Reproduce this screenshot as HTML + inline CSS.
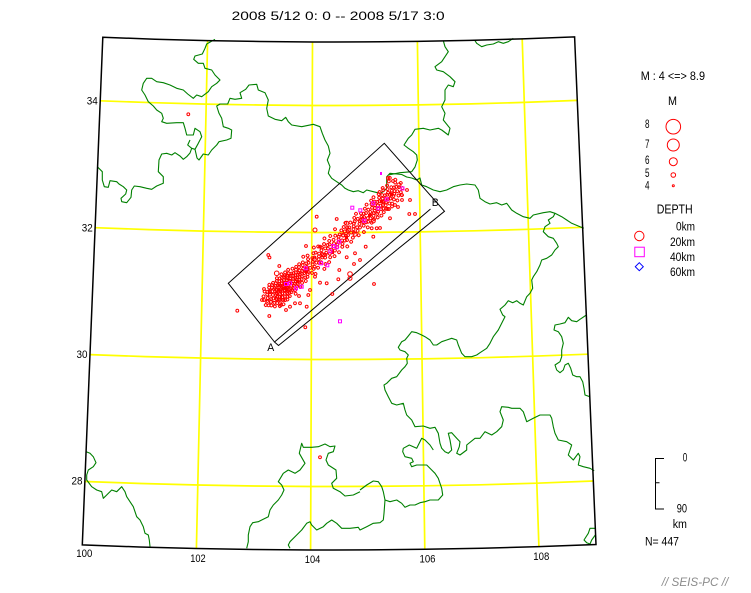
<!DOCTYPE html>
<html><head><meta charset="utf-8"><style>
html,body{margin:0;padding:0;background:#fff;}
svg{display:block;}
text{font-family:"Liberation Sans",sans-serif;fill:#000;}
</style></head><body>
<svg width="751" height="593" viewBox="0 0 751 593" xmlns="http://www.w3.org/2000/svg">
<defs>
<marker id="m" markerWidth="6" markerHeight="6" refX="3" refY="3" markerUnits="userSpaceOnUse" overflow="visible"><circle cx="3" cy="3" r="1.4" fill="none" stroke="#ff0000" stroke-width="1"/></marker>
</defs>
<rect x="0" y="0" width="751" height="593" fill="#fff"/>

<!-- yellow grid -->
<g fill="none" stroke="#ffff00" stroke-width="1.7">
<polyline points="100.2,100.8 153.2,102.7 206.2,104.1 259.2,105 312.3,105.5 334,105.5 365.3,105.4 418.3,104.9 471.3,103.9 524.3,102.4 577.3,100.4"/>
<polyline points="95.1,227.7 149.2,229.6 203.4,231.1 257.6,232 311.8,232.5 334,232.5 366,232.4 420.2,231.9 474.3,230.8 528.5,229.3 582.6,227.3"/>
<polyline points="90,354.6 145.3,356.6 200.6,358 256,359 311.3,359.5 334,359.5 366.7,359.4 422,358.9 477.3,357.8 532.7,356.2 588,354.2"/>
<polyline points="84.8,481.5 141.3,483.5 197.8,485 254.3,486 310.8,486.5 334,486.5 367.3,486.4 423.9,485.8 480.4,484.8 536.8,483.2 593.3,481"/>
<path d="M207.6,40.6 L196.4,548.5 M312.5,42 L310.6,550 M417.4,41.4 L424.8,549.3 M522.2,38.9 L538.9,546.6"/>
</g>

<!-- green borders -->
<g fill="none" stroke="#008000" stroke-width="1.1" stroke-linejoin="round">
<polyline points="215,39.3 206.7,44 205,48.3 202.3,54 195,56 193.7,59.3 198.3,63.3 203.3,63.3 205,68.3 211.7,70 215,75 220,80 216.7,83.3 211.7,86.7 208.3,91.7 201.7,96.7 196.7,95 193.3,98.3 187.7,94 183.3,90 176.7,88.3 170,85 163.3,82.7 156.7,81.7 151.7,78.3 146.7,78.3 143.3,83.3 141.7,90 145,95 148.3,101.7 153.3,106 156.7,110 161.7,113.3 163.3,118.3 161.7,121.7 166.7,123.3 176.7,122.7 183.3,122.7 185,128.3 186.7,135 193.3,135 195,128.3 200,131.7 201.7,136.7 198.3,143.3 195,149.3 191.7,148.3 187.7,145 190,140"/>
<polyline points="191.7,148.3 190,153 186.7,156.7 183.3,159.3 180,156 175,152.7 171.7,155 166.7,153.3 161.7,154 159,160 158.3,171.7 163.3,176.7 163.3,183.3 156.7,186 151.7,189.3 146.7,188.3 140,186.7 134.3,186 131.7,190 131,197.3 126.7,202.7 121.7,201.7 121,198.3 125.7,194 126.7,190 123.3,186.7 119,184 116.7,181.7 110,180.7 108.3,187.3 104.3,186.7 102.3,180 102.3,171.7 97.6,167"/>
<polyline points="195,149.3 197,158 199,160 203.3,154 208.3,155 211.7,150 216.7,145 219,141.7 226.7,140 231,138.3 231.7,130 228.3,128.3 223.3,126.7 221.7,118.3 219,113.3 216.7,106 220,104 227.7,104 230,98.3 235,99.3 241.7,98.3 240,92.7 245.7,89.3 249,85 256.7,84.3 258.3,90 265,92.7 268.3,100 266.7,108.3 268.3,116 275,119.3 281.7,120.7 285.7,117.3 288.3,121.7 291.7,125 301.7,126.7 313.3,124.3 320,126.7 322.3,133.3 325,140 328.3,146 330,153.3 327.3,160 330,166.7 328.3,173.3 331.7,178.3 336.7,181.7 341.7,185 345,188.3 348.3,190 353.3,191.7 358.3,190.7 363.3,192.7 366.7,190 373.3,191.7 380,193.3 383.3,191.7 386.7,188.3 386.7,176.7 390,173.3 396.7,174 401.7,174.5 406.7,177 411.7,178 416.7,180 420,178 421.7,185 426.7,186.7 433.3,190 440,191.7 446.7,190 453.3,186.7 460,185 466.7,184 475,185 478.3,190 480,198.3 485,201.7 490,204 496.7,202.7 501.7,205 506.7,203.3 511.7,210 516.7,213.3 523.3,216.7 530,218.3 533.3,215 543.3,212.7 550,211.7 555,213.3 561.7,216.7 566.7,220 571.7,223.3 580,226.7 583.8,228.3"/>
<polyline points="443.3,40.7 445,46.7 448.3,51.7 445,56.7 441.7,61.7 435,66.7 436.7,70 443.3,71.7 450,76.7 455,81.7 453.3,86.7 448.3,85 445,90 445,100 441.7,106.7 445,113.3 443.3,120 450,128.3 448.3,135 441.7,130 438.3,128.3 430,130 423.3,128.3 415,129.3 411.7,135 408.3,138.3 404,145 408.3,148.3 413.3,151.7 416.7,155 417.3,160 415,167 411.7,171.7 400,172.7 388.3,175"/>
<polyline points="475,40.7 476.7,43.3 481.7,46.7 486.7,45 493.3,44 498.3,41.7 503.3,43.3 508.3,41.7 513.3,38.3"/>
<polyline points="555,213.3 553.3,216.7 548.3,220 550,223.3 545,226.7 543.3,231.7 548.3,236.7 553.3,238.3 556.7,243.3 558.3,246.7 555,250 551.7,255 546.7,258.3 541.7,260 540,265 536.7,271.7 533.3,276.7 531.7,280 532.7,288.3 530,293.3 526.7,296.7 523.3,305 520,303.3 516.7,300.7 512.7,302.7 508.3,300.7 505,305 500,309.3 502.7,315 505,316.7 501.7,323.3 498.3,330 493.3,336.7 490,343.3 486.7,348.3 480,352.7 476.7,355 471.7,356.7 465,356.7 461.7,353.3 458.3,345 456.7,340 451.7,338.3 446.7,340 441.7,341.7 436.7,345 433.3,345 430,340 425,336.7 421.7,335 416.7,332.7 411.7,331.7 408.3,336 405,340 401.7,341.7 398.3,347.3 400,350 405,351.7 408.3,355 406.7,358.3 407.3,363.3 405,366.7 401.7,370 396.7,376.7 391.7,378.3 386.7,383.3 384,385 385,390 388.3,396.7 391.7,403.3 396.7,405 403.3,403.3 405,410 406.7,415 411.7,420 415,426.7 423.3,426 430,428.3 435,427.3 438.3,433.3 440,443.3 441.7,448.3 445,451.7 448.3,453.3 451.7,450 450,440 448.3,433.3 451.7,432.7 456.7,438.3 460,441.7 459.3,446.7 456.7,453.3 460,455 466.7,450 466.7,445 475,438.3 480,438.3 485,431.7 491.7,435 496.7,431.7 501.7,426.7 503.3,420 500,411.7 501.7,406.7 508.3,407.3 511.7,408.3 520,408.3 523.3,411.7 526.7,421.7 533.3,418.3 540,415 550,415 551.7,418.3 553.3,426.7 555,433.3 558.3,440 566.7,441.7 571.7,445 570,450 568.3,455 573.3,460 578.3,453.3 580,456.7 578.3,465 583.3,466.7 590,468.3 594.2,470.7"/>
<polyline points="360,490 366.7,485 373.3,481 378.3,481.7 381.7,486.7 383.3,491.7 385,500 390,501.7 396.7,500 401.7,503.3 405,507.3 410,505 415,505 420,502.7 425,501.7 430,500 438.3,500 442.7,495 441.7,488.3 440,483.3 438.3,478.3 435,473.3 431.7,470 426.7,465 416.7,465 411.7,466.7 410,463.3 413.3,461.7 411.7,458.3 405,456.7 402.7,451.7 403.3,448.3 409.3,445 416.7,448.3 421.7,438.3 425,440 430,445 433.3,450"/>
<polyline points="290,548.3 288.3,545 290,541.7 296.7,535 301.7,530 306.7,523.3 310,521.7 311.7,525 316.7,530 323.3,526.7 326.7,523.3 331.7,520 336.7,523.3 341.7,528.3 350,528.3 358.3,527.3 360,530 366.7,526.7 373.3,523.3 380,522.7 383.3,520 384,513.3 385,500"/>
<polyline points="246.7,548.3 248.3,541.7 248.3,535 250,526.7 252.7,522.7 258.3,521.7 261.7,520 268.3,516.7 270,510 273.3,505 278.3,500 281.7,495 284,490 281.7,485 278.3,481.7 283.3,473.3 288.3,470 295,473.3 300,470 305,463.3 299.3,453.3 301.7,443.3 303.3,447.3 311.7,447.3 318.3,446.7 325,444 330,446.7 335,446 333.3,451.7 328.3,453.3 326,460 328.3,465 336,470 336.7,478.3 331.7,483.3 333.3,488.3 340,491.7 345,496 353.3,495 360,491.7"/>
<polyline points="86.2,451.7 90,453.3 93.3,456.7 96,462.7 93.3,466.7 88.3,470 86.7,475 86.7,480 91.7,486.7 96.7,490 101.7,491.7 103.3,498.3 106.7,495 111.7,490 116.7,491.7 121.7,486.7 125,491.7 126.7,496.7 130,501.7 133.3,506.7 135,511.7 136.7,516.7 140,520 143.3,526.7 145,533.3 148.3,535 149.3,540 150,546.5"/>
<polyline points="586.4,315 580,319.3 576.7,321.7 571.7,320.7 568.3,317.3 565,322.7 560,324 555,325 554,330 558.3,331.7 561.7,336.7 563.3,343.3 561.7,350 561.7,356.7 560,361.7 555,365 556.7,370 560,372.7 563.3,370 565,365 568.3,363.3 570.7,368.3 572.7,375 576.7,376.7 580,376.7 582.7,381.7 584,388.3 585,395 589.8,396.7"/>
<polyline points="595.3,528.3 590,528.3 588.3,533.3 584,540 586.7,542.7 590,544 591.7,540 595.3,535"/>
</g>

<!-- frame -->
<path d="M102.8,37.3 L155.2,39.2 207.6,40.6 260.1,41.5 312.5,42 334,42 364.9,41.9 417.4,41.4 469.8,40.4 522.2,38.9 574.6,36.9 L596,544.5 538.9,546.6 481.9,548.2 424.8,549.3 367.7,549.9 334,550 310.6,550 253.5,549.5 196.4,548.5 139.3,547 82.3,544.9 Z" fill="none" stroke="#000" stroke-width="1.5"/>

<!-- cross-section box -->
<g fill="none" stroke="#000" stroke-width="1">
<polyline points="274.5,342 228.3,283.3 384.3,143.3 444.5,211.3 278.5,345.5 274.5,342 430.5,209"/>
</g>
<text x="267.3" y="351" font-size="11" textLength="7" lengthAdjust="spacingAndGlyphs">A</text>
<text x="431.7" y="206" font-size="11" textLength="7" lengthAdjust="spacingAndGlyphs">B</text>

<!-- event cloud (rotated frame along fault) -->
<g transform="translate(272,297) rotate(-40.86)">
<polyline fill="none" stroke="none" marker-start="url(#m)" marker-mid="url(#m)" marker-end="url(#m)" points="-10,2 -8,-3 -8,4 -6,0 -6,6 -6,-6 -4,3 -4,-2 -4,9 -2,-5 -2,1 -2,6 -2,-9 0,2 0,-3 0,8 0,-7 0,12 2,-1 2,4 2,-6 2,10 2,5 4,1 4,-4 4,7 4,-9 4,3 4,13 6,-2 6,5 6,-7 6,9 6,0 6,-11 8,3 8,-5 8,7 8,0 8,-9 8,11 8,-2 10,-1 10,4 10,-6 10,8 10,1 10,-10 10,12 12,2 12,-3 12,6 12,-8 12,0 12,10 12,-5 14,-1 14,3 14,-5 14,7 14,-9 14,1 14,11 14,-3 16,0 16,4 16,-4 16,8 16,-7 16,2 16,-11 16,6 18,1 18,-2 18,5 18,-6 18,9 18,-9 18,3 18,-1 20,-2 20,2 20,6 20,-5 20,8 20,-8 20,0 20,13 22,1 22,-3 22,4 22,-7 22,7 22,-11 22,10 24,-1 24,3 24,-4 24,6 24,-8 24,9 24,0 26,2 26,-2 26,5 26,-6 26,8 26,-10 28,0 28,-4 28,4 28,7 28,-7 28,11 30,1 30,-2 30,3 30,-5 30,6 30,-10 32,-1 32,2 32,5 32,-4 32,9 34,0 34,-3 34,3 34,6 34,-8 36,1 36,-1 36,4 36,-5 36,10 38,-2 38,2 38,7 38,-7 40,0 40,3 40,-5 40,8 42,-1 42,2 42,6 42,-7 44,1 44,-4 44,5"/>
<polyline fill="none" stroke="none" marker-start="url(#m)" marker-mid="url(#m)" marker-end="url(#m)" points="46,0 46,-6 46,8 48,3 48,-3 48,11 50,-2 50,6 50,-10 52,2 52,-5 52,5 54,0 54,8 54,-8 56,3 56,-3 58,-2 58,5 58,13 60,2 60,-6 60,6 62,0 62,10 62,-5 64,3 64,-2 64,-10 66,0 66,5 66,11 68,-3 68,3 68,-8 70,2 70,8 70,-5 72,-2 72,5 74,0 74,-6 74,10 76,3 76,-3 78,-2 78,6 78,-10 80,2 80,-5 80,10 82,0 82,5 84,-3 84,3 84,-8 86,2 86,8 88,0 88,-5 88,6 90,3 90,-2 90,11 92,-3 92,5 92,-10 94,0 94,6 96,2 96,-5 96,10 98,-2 98,3 100,0 100,8 100,-6 102,3 102,-3 104,-2 104,5 104,-8 106,2 106,10 108,0 108,-5 108,6 110,3 110,-2 112,-3 112,5 112,11 114,2 114,-6 116,0 116,6 116,-3 118,3 118,-8 118,10 120,-2 120,5 120,0"/>
<polyline fill="none" stroke="none" marker-start="url(#m)" marker-mid="url(#m)" marker-end="url(#m)" points="122,0 122,6 122,-5 124,3 124,-3 124,9 126,-2 126,5 128,2 128,-6 128,8 130,0 130,5 130,-3 132,3 132,-8 132,9 134,-2 134,2 134,6 136,0 136,-5 136,5 136,10 138,3 138,-2 138,-8 140,0 140,5 140,-5 140,9 142,2 142,-3 142,6 142,-9 144,-2 144,3 144,8 146,0 146,-5 146,5 146,10 148,3 148,-2 148,-8 150,0 150,6 150,-5 152,2 152,-3 152,8 154,-2 154,3 154,-8 156,0 156,6 156,-3 158,3 158,-6 158,9 160,-2 160,2 162,0 162,6 162,-5 164,2 164,-3 166,-2 166,5 168,0 168,-6 170,3 172,-2 160,-9 164,-11 167,-13 170,-8 155,-10 150,-9 145,9 150,10 165,8"/>
</g>
<polyline fill="none" stroke="none" marker-start="url(#m)" marker-mid="url(#m)" marker-end="url(#m)" points="188.3,114.3 320,457.3 237.3,310.7 269.3,316 305.3,327.3 332.3,294 374,284 316.7,216.7 336.7,219 409.3,214 415,214 268.3,255 269.5,257.5 279.3,266 306,246 320,246.7 365.7,246.7 373.3,236.7 390,218.3 395,205 391.7,193.3 401.7,195 388,178 393,181 407,190 402,200 360,260 354,264 380,228 398,207 410,200 376.7,228.3 371.7,228.3 355,253.3 346.7,257.3 339.3,270 338.3,279.3 320,282.7 326.7,283.3 315,276.7 310,290 308.3,295 306.7,306.7 300,303.3 295,303.3 290,306.7 283.3,300 270,292 264,289 262,300 281,305 286,310 299,296"/>

<!-- larger events -->
<g fill="none" stroke="#ff0000" stroke-width="1">
<circle cx="275" cy="295" r="6.7"/>
<circle cx="267.7" cy="302.3" r="2"/>
<circle cx="276.7" cy="273.3" r="2.3"/>
<circle cx="278.3" cy="296.7" r="2"/>
<circle cx="286.7" cy="276.7" r="2"/>
<circle cx="306.7" cy="270" r="2"/>
<circle cx="314.3" cy="259.3" r="2"/>
<circle cx="323.3" cy="255" r="2"/>
<circle cx="343.3" cy="235" r="2"/>
<circle cx="355" cy="234.3" r="2"/>
<circle cx="346.7" cy="223.3" r="2"/>
<circle cx="350" cy="274" r="2.3"/>
<circle cx="350" cy="278.3" r="2"/>
<circle cx="373.3" cy="221" r="2"/>
<circle cx="361.7" cy="220" r="2"/>
<circle cx="348.3" cy="230" r="2"/>
<circle cx="399" cy="185" r="2"/>
<circle cx="315" cy="230" r="2"/>
<circle cx="383.3" cy="201.7" r="2"/>
<circle cx="285" cy="290" r="2"/>
<circle cx="292" cy="276" r="2"/>
</g>
<g fill="#ff0000">
<rect x="286" y="282" width="3" height="3"/>
<rect x="296" y="280" width="3" height="3"/>
<rect x="305" y="270" width="3" height="3"/>
<rect x="331" y="251" width="3" height="3"/>
<rect x="345" y="236" width="3" height="3"/>
<rect x="368" y="214" width="3" height="3"/>
<rect x="380" y="200" width="3" height="3"/>
<rect x="390" y="193" width="3" height="3"/>
</g>
<g fill="none" stroke="#ff00ff" stroke-width="1">
<rect x="401" y="187" width="3" height="3"/>
<rect x="385.2" y="197.8" width="3" height="3"/>
<rect x="371.8" y="201.8" width="3" height="3"/>
<rect x="350.8" y="206.2" width="3" height="3"/>
<rect x="358.8" y="208.8" width="3" height="3"/>
<rect x="362.8" y="219.2" width="3" height="3"/>
<rect x="376.8" y="206.8" width="3" height="3"/>
<rect x="331.8" y="244.5" width="3" height="3"/>
<rect x="335.2" y="245.8" width="3" height="3"/>
<rect x="328.8" y="249.8" width="3" height="3"/>
<rect x="337.8" y="240.2" width="3" height="3"/>
<rect x="325.8" y="263.8" width="3" height="3"/>
<rect x="319.5" y="261.8" width="3" height="3"/>
<rect x="304.2" y="266.8" width="3" height="3"/>
<rect x="300.2" y="285.2" width="3" height="3"/>
<rect x="294.5" y="286.8" width="3" height="3"/>
<rect x="288.5" y="281.8" width="3" height="3"/>
<rect x="284.5" y="282.5" width="3" height="3"/>
<rect x="338.5" y="319.8" width="3" height="3"/>
</g>
<rect x="380" y="172" width="2" height="3" fill="#ff00ff"/>

<!-- title -->
<text x="231.7" y="20" font-size="11.5" textLength="213" lengthAdjust="spacingAndGlyphs">2008 5/12 0: 0 -- 2008 5/17 3:0</text>

<!-- lat/lon labels -->
<g font-size="11">
<text x="86.8" y="104.5" textLength="11" lengthAdjust="spacingAndGlyphs">34</text>
<text x="81.8" y="231.5" textLength="11" lengthAdjust="spacingAndGlyphs">32</text>
<text x="76.5" y="358" textLength="11" lengthAdjust="spacingAndGlyphs">30</text>
<text x="71.5" y="484.5" textLength="11" lengthAdjust="spacingAndGlyphs">28</text>
<text x="76.3" y="557" textLength="16" lengthAdjust="spacingAndGlyphs">100</text>
<text x="190.2" y="562" textLength="15.5" lengthAdjust="spacingAndGlyphs">102</text>
<text x="304.8" y="563" textLength="15.5" lengthAdjust="spacingAndGlyphs">104</text>
<text x="419.5" y="562.7" textLength="16" lengthAdjust="spacingAndGlyphs">106</text>
<text x="533.3" y="560" textLength="16" lengthAdjust="spacingAndGlyphs">108</text>
</g>

<!-- legend -->
<g font-size="11.5">
<text x="640.7" y="80" textLength="64.3" lengthAdjust="spacingAndGlyphs">M : 4 &lt;=&gt; 8.9</text>
<text x="668" y="105" textLength="9" lengthAdjust="spacingAndGlyphs">M</text>
<text x="645" y="128" textLength="4.5" lengthAdjust="spacingAndGlyphs">8</text>
<text x="645" y="148" textLength="4.5" lengthAdjust="spacingAndGlyphs">7</text>
<text x="645" y="164" textLength="4.5" lengthAdjust="spacingAndGlyphs">6</text>
<text x="645" y="177" textLength="4.5" lengthAdjust="spacingAndGlyphs">5</text>
<text x="645" y="189.3" textLength="4.5" lengthAdjust="spacingAndGlyphs">4</text>
</g>
<g fill="none" stroke="#ff0000" stroke-width="1">
<circle cx="673.3" cy="126.7" r="7.3"/>
<circle cx="673.3" cy="145" r="6"/>
<circle cx="673.3" cy="161.7" r="4"/>
<circle cx="673.3" cy="175" r="2.3"/>
<circle cx="673.3" cy="185.7" r="1"/>
<circle cx="639.3" cy="236" r="4.7"/>
</g>
<rect x="634.8" y="247.2" width="9.5" height="9.5" fill="none" stroke="#ff00ff" stroke-width="1"/>
<path d="M639.3,262.7 L643.3,266.7 639.3,270.7 635.3,266.7 Z" fill="none" stroke="#0000ff" stroke-width="1"/>
<text x="656.7" y="213.3" font-size="12.5" textLength="36" lengthAdjust="spacingAndGlyphs">DEPTH</text>
<g font-size="11.5">
<text x="676" y="230.7" textLength="19" lengthAdjust="spacingAndGlyphs">0km</text>
<text x="670" y="246" textLength="25" lengthAdjust="spacingAndGlyphs">20km</text>
<text x="670" y="261" textLength="25" lengthAdjust="spacingAndGlyphs">40km</text>
<text x="670" y="276" textLength="25" lengthAdjust="spacingAndGlyphs">60km</text>
</g>

<!-- depth scale -->
<path d="M664,458.5 L655.5,458.5 L655.5,509 L664,509 M655.5,482.7 L659.5,482.7" fill="none" stroke="#000" stroke-width="1"/>
<g font-size="11.5">
<text x="682.7" y="461.7" textLength="4.5" lengthAdjust="spacingAndGlyphs">0</text>
<text x="676.7" y="512.7" textLength="10.3" lengthAdjust="spacingAndGlyphs">90</text>
<text x="672.7" y="528" textLength="14.3" lengthAdjust="spacingAndGlyphs">km</text>
<text x="645" y="545.7" textLength="34" lengthAdjust="spacingAndGlyphs">N= 447</text>
</g>
<text x="661.7" y="586" font-size="12" font-style="italic" fill="#8c8c8c" style="fill:#8c8c8c" textLength="66.6" lengthAdjust="spacingAndGlyphs">// SEIS-PC //</text>
</svg>
</body></html>
